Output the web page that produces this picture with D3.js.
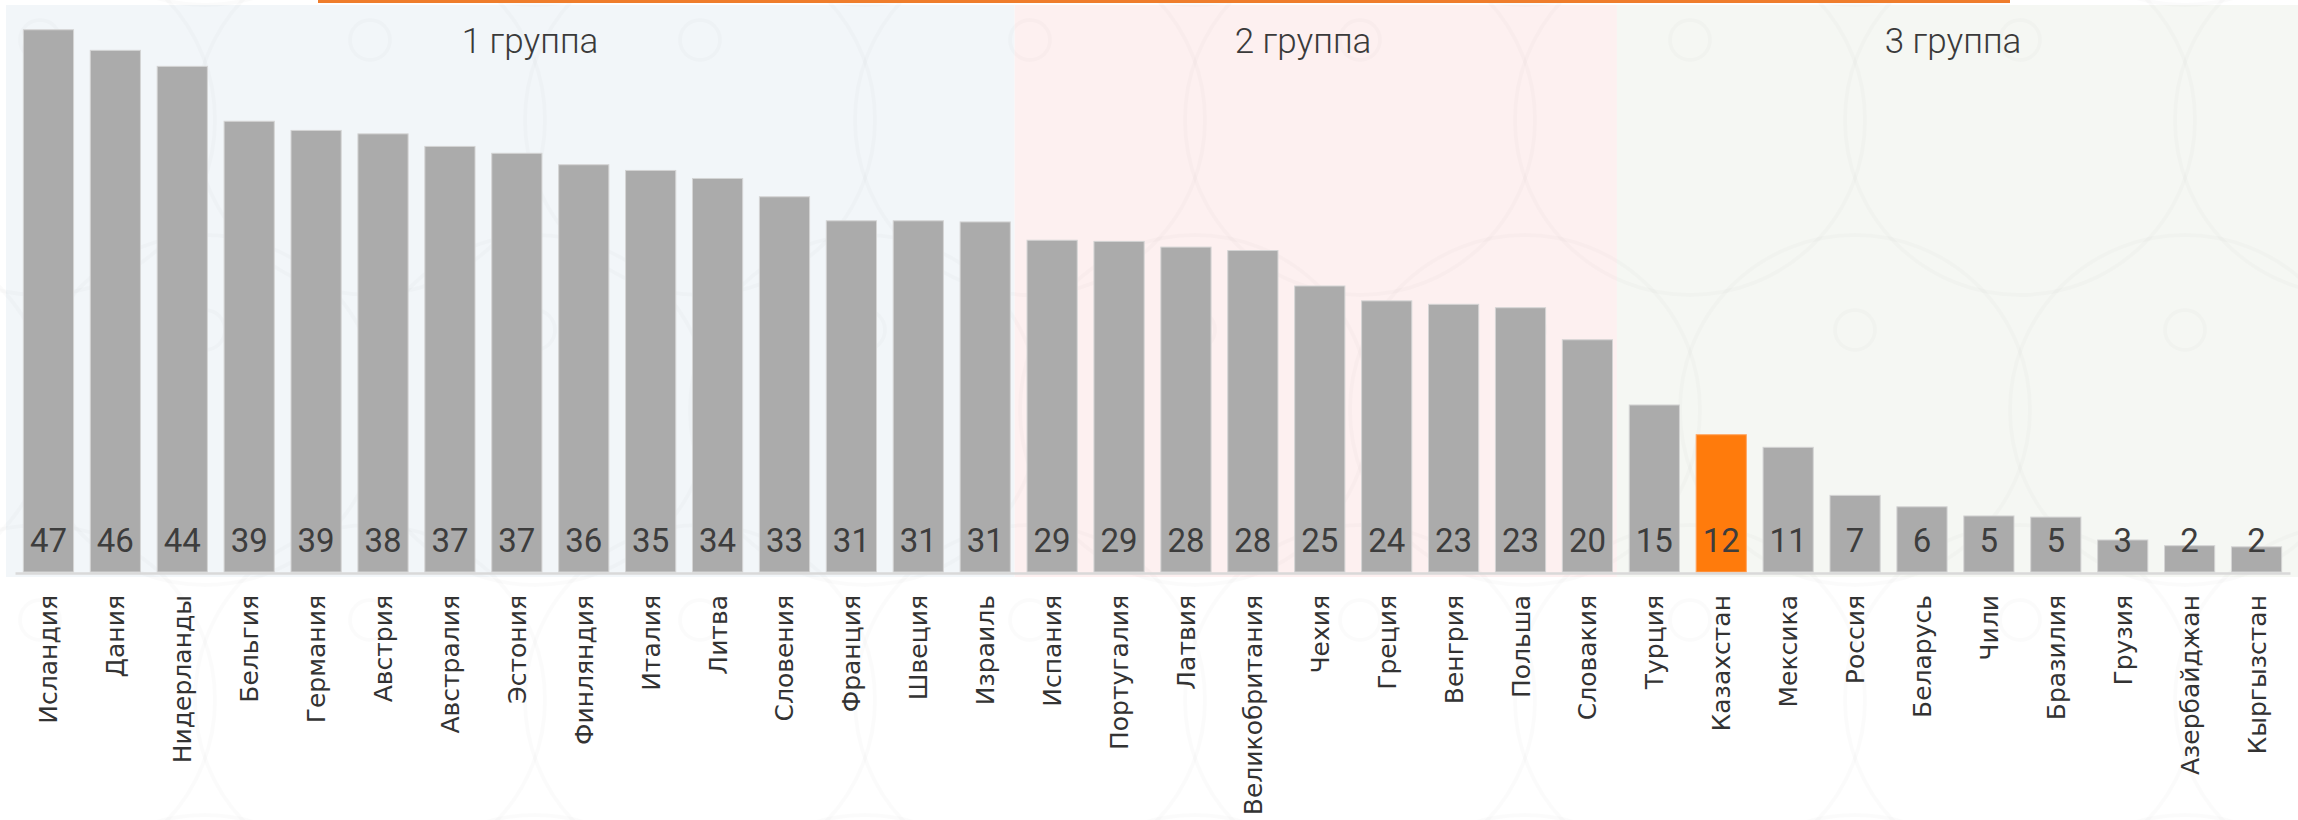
<!DOCTYPE html>
<html>
<head>
<meta charset="utf-8">
<script src="https://cdn.jsdelivr.net/npm/d3@7"></script>
<style>
  html, body { margin: 0; padding: 0; background: #ffffff; }
  svg { display: block; }
</style>
</head>
<body>
<svg id="chart" width="2298" height="820"></svg>
<script>
// ---------------- data ----------------
const categories = ["Исландия","Дания","Нидерланды","Бельгия","Германия","Австрия","Австралия","Эстония","Финляндия","Италия","Литва","Словения","Франция","Швеция","Израиль","Испания","Португалия","Латвия","Великобритания","Чехия","Греция","Венгрия","Польша","Словакия","Турция","Казахстан","Мексика","Россия","Беларусь","Чили","Бразилия","Грузия","Азербайджан","Кыргызстан"];
const values = [47.4,45.6,44.2,39.4,38.6,38.3,37.2,36.6,35.6,35.1,34.4,32.8,30.7,30.7,30.6,29.0,28.9,28.4,28.1,25.0,23.7,23.4,23.1,20.3,14.6,12.0,10.9,6.7,5.7,4.9,4.8,2.8,2.3,2.2];
const groupNames = ["1 группа","2 группа","3 группа"];
const groupFirst = ["Исландия","Испания","Турция"];
const groupLast = ["Израиль","Словакия","Кыргызстан"];
const highlighted = "Казахстан";
const yDomainMax = 50;

// ---------------- layout ----------------
const W = 2298, H = 820;
const baseY = 572;
const svg = d3.select("#chart");

const x = d3.scaleBand().domain(categories).range([15, 2290]).paddingInner(0.25).paddingOuter(0.125);
const y = d3.scaleLinear().domain([0, yDomainMax]).range([baseY, 0]);

const groupFills = ["#f2f6f9", "#fdf0f0", "#f5f7f3"];
const titleX = [530, 1303, 1953];

// group background bands
const gap = x.step() - x.bandwidth();
const groups = groupNames.map((name, i) => {
  const x0 = i === 0 ? 6 : x(groupFirst[i]) - gap / 2 - 4;
  const x1 = i === groupNames.length - 1 ? W : x(groupLast[i]) + x.bandwidth() + gap / 2 - 4;
  return { name, x0, x1, fill: groupFills[i], tx: titleX[i] };
});

svg.append("rect").attr("width", W).attr("height", H).attr("fill", "#ffffff");

svg.append("g").selectAll("rect").data(groups).join("rect")
  .attr("x", d => d.x0).attr("y", 5)
  .attr("width", d => d.x1 - d.x0).attr("height", 577 - 5)
  .attr("fill", d => d.fill);

// faint decorative ornament
const orn = svg.append("g").attr("fill", "none").attr("stroke", "#000").attr("stroke-opacity", 0.016).attr("stroke-width", 4);
for (let j = -1; j < 4; j++) {
  for (let i = -1; i < 9; i++) {
    const cx = i * 330 + (j % 2 ? 165 : 0) + 40;
    const cy = j * 290 + 120;
    orn.append("circle").attr("cx", cx).attr("cy", cy).attr("r", 175);
    orn.append("circle").attr("cx", cx).attr("cy", cy - 80).attr("r", 20);
  }
}

// top orange line
svg.append("rect").attr("x", 318).attr("y", 0).attr("width", 2010 - 318).attr("height", 3).attr("fill", "#ef7d2c");

// group titles
svg.append("g").selectAll("text").data(groups).join("text")
  .attr("x", d => d.tx).attr("y", 53)
  .attr("text-anchor", "middle")
  .attr("font-family", "Roboto, 'Open Sans', sans-serif")
  .attr("font-weight", 300)
  .attr("font-size", 35)
  .attr("fill", "#3a3a3a")
  .text(d => d.name);

// bars
const data = categories.map((c, i) => ({ c, v: values[i] }));
svg.append("g").selectAll("rect").data(data).join("rect")
  .attr("x", d => x(d.c))
  .attr("y", d => y(d.v))
  .attr("width", x.bandwidth())
  .attr("height", d => y(0) - y(d.v))
  .attr("fill", d => d.c === highlighted ? "#ff7b0c" : "#ababab")
  .attr("stroke", d => d.c === highlighted ? "#ffa560" : "#d4d4d4")
  .attr("stroke-width", 1);

// axis
const axis = svg.append("g")
  .attr("transform", `translate(0,${baseY + 1})`)
  .call(d3.axisBottom(x).tickSize(0).tickSizeOuter(0));
axis.select(".domain").attr("stroke", "#d9d9d9").attr("stroke-width", 2.5);
axis.selectAll(".tick text")
  .attr("transform", "rotate(-90)")
  .attr("x", -22).attr("y", 0).attr("dy", "0.36em")
  .attr("text-anchor", "end")
  .attr("font-family", "'DejaVu Sans', sans-serif")
  .attr("font-size", 25)
  .attr("fill", "#333333");

// value labels
const fmt = d3.format(".0f");
svg.append("g").selectAll("text").data(data).join("text")
  .attr("x", d => x(d.c) + x.bandwidth() / 2)
  .attr("y", 551.5)
  .attr("text-anchor", "middle")
  .attr("font-family", "Roboto, 'Open Sans', sans-serif")
  .attr("font-size", 33)
  .attr("fill", "#3d3d3d")
  .text(d => fmt(d.v));
</script>
</body>
</html>
